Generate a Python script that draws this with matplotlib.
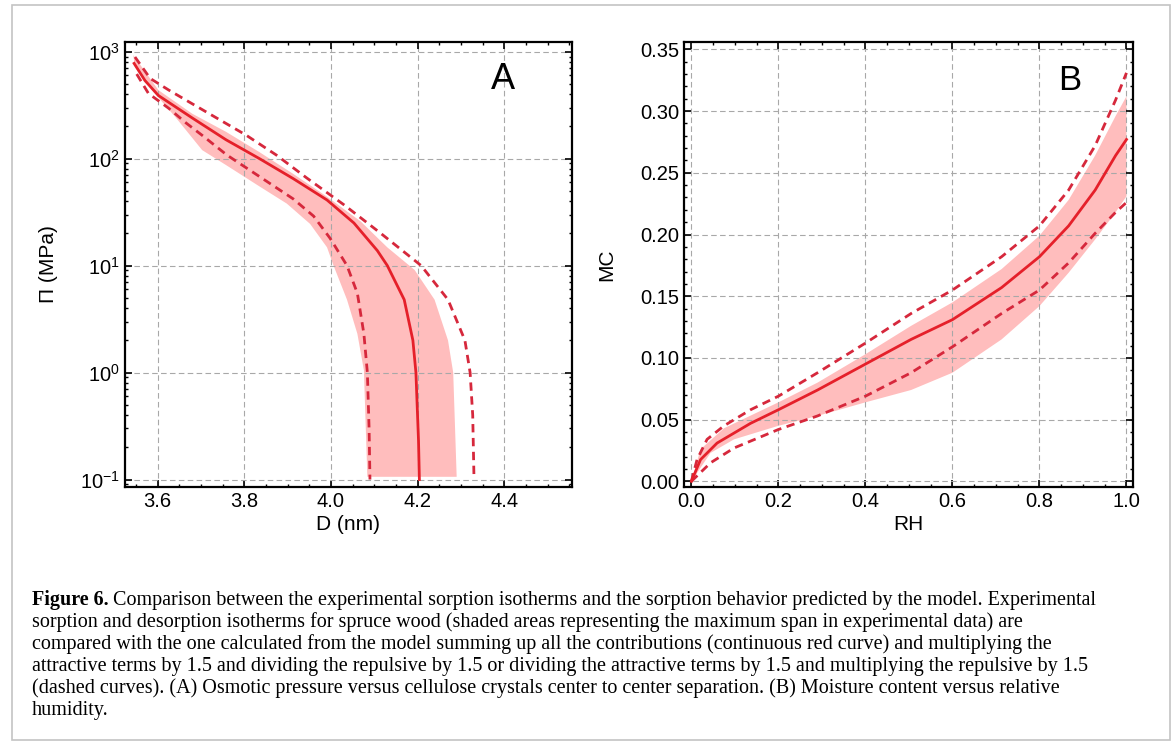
import matplotlib
matplotlib.use('Agg')
import matplotlib.pyplot as plt
from matplotlib.patches import Rectangle
from matplotlib.ticker import MultipleLocator, LogLocator, NullFormatter, FormatStrFormatter
import numpy as np

plt.rcParams['font.family'] = ['Liberation Sans', 'DejaVu Sans']
plt.rcParams['mathtext.fontset'] = 'custom'
plt.rcParams['mathtext.rm'] = 'Liberation Sans'
plt.rcParams['mathtext.it'] = 'Liberation Sans:italic'

# ---- panel A: osmotic pressure (MPa) vs crystal separation D (nm) ----
a_solid_D = [3.546, 3.571, 3.602, 3.68, 3.758, 3.835, 3.913, 3.991, 4.053, 4.107, 4.13, 4.169, 4.189, 4.196, 4.202, 4.204]
a_solid_P = [776, 537, 389, 240, 150, 100, 65, 41, 25, 13.8, 10, 4.8, 2.0, 1.0, 0.23, 0.1]

a_upper_D = [3.548, 3.583, 3.626, 3.711, 3.804, 3.874, 3.944, 4.03, 4.115, 4.208, 4.27, 4.309, 4.321, 4.327, 4.33]
a_upper_P = [891, 562, 437, 275, 166, 108, 66, 37, 20, 10, 4.8, 2.0, 1.0, 0.4, 0.1]

a_lower_D = [3.552, 3.579, 3.626, 3.666, 3.703, 3.76, 3.85, 3.913, 3.96, 3.998, 4.037, 4.061, 4.076, 4.084, 4.088, 4.09]
a_lower_P = [617, 407, 295, 215, 165, 108, 62, 42, 29, 18, 10, 5.5, 2.3, 1.0, 0.3, 0.1]

a_band_left_D = [3.544, 3.548, 3.587, 3.641, 3.703, 3.758, 3.835, 3.898, 3.952, 3.991, 4.006, 4.037, 4.061, 4.076, 4.084]
a_band_left_P = [930, 724, 437, 245, 120, 87, 55, 38, 24.5, 14.8, 10, 4.8, 2.3, 1.05, 0.106]
a_band_right_D = [3.544, 3.602, 3.68, 3.758, 3.835, 3.913, 3.991, 4.068, 4.13, 4.193, 4.239, 4.27, 4.282, 4.29]
a_band_right_P = [930, 437, 263, 178, 115, 72, 44, 26, 14.8, 9.1, 4.8, 2.0, 1.0, 0.106]

# ---- panel B: moisture content vs relative humidity ----
b_solid_rh = [0.0, 0.021, 0.059, 0.136, 0.2, 0.29, 0.4, 0.505, 0.6, 0.713, 0.8, 0.867, 0.928, 0.975, 1.0]
b_solid_mc = [0.0, 0.0176, 0.031, 0.047, 0.058, 0.074, 0.095, 0.115, 0.131, 0.157, 0.182, 0.207, 0.236, 0.264, 0.277]

b_upper_rh = [0.0, 0.013, 0.036, 0.075, 0.136, 0.2, 0.29, 0.4, 0.505, 0.6, 0.713, 0.8, 0.867, 0.928, 0.975, 1.0]
b_upper_mc = [0.0, 0.0176, 0.034, 0.045, 0.058, 0.069, 0.088, 0.112, 0.136, 0.155, 0.182, 0.207, 0.236, 0.272, 0.309, 0.331]

b_lower_rh = [0.0, 0.044, 0.098, 0.2, 0.29, 0.4, 0.505, 0.6, 0.713, 0.8, 0.867, 0.928, 0.975, 1.0]
b_lower_mc = [0.0, 0.015, 0.027, 0.042, 0.053, 0.069, 0.088, 0.109, 0.136, 0.155, 0.177, 0.201, 0.218, 0.226]

b_band_hi_rh = [0.0, 0.021, 0.075, 0.2, 0.29, 0.4, 0.505, 0.6, 0.713, 0.8, 0.867, 0.928, 0.975, 1.0]
b_band_hi_mc = [0.0, 0.026, 0.043, 0.064, 0.080, 0.103, 0.126, 0.145, 0.172, 0.199, 0.228, 0.264, 0.296, 0.312]
b_band_lo_rh = [0.0, 0.044, 0.098, 0.2, 0.29, 0.4, 0.505, 0.6, 0.713, 0.8, 0.867, 0.928, 0.975, 1.0]
b_band_lo_mc = [0.0, 0.023, 0.034, 0.045, 0.053, 0.064, 0.074, 0.088, 0.115, 0.142, 0.169, 0.196, 0.218, 0.231]

caption_lines = [
    "Comparison between the experimental sorption isotherms and the sorption behavior predicted by the model. Experimental",
    "sorption and desorption isotherms for spruce wood (shaded areas representing the maximum span in experimental data) are",
    "compared with the one calculated from the model summing up all the contributions (continuous red curve) and multiplying the",
    "attractive terms by 1.5 and dividing the repulsive by 1.5 or dividing the attractive terms by 1.5 and multiplying the repulsive by 1.5",
    "(dashed curves). (A) Osmotic pressure versus cellulose crystals center to center separation. (B) Moisture content versus relative",
    "humidity.",
]

RED = '#e5202a'
DRED = '#d6283c'
SHADE = '#ffbdbd'
DASH = (0, (3.0, 2.0))


def style_axes(ax):
    for s in ax.spines.values():
        s.set_linewidth(1.6)
    ax.tick_params(which='both', direction='in', top=True, right=True, labelsize=14.5)
    ax.tick_params(which='major', length=5, width=1.2)
    ax.tick_params(which='minor', length=2.5, width=1.0)
    ax.grid(True, which='major', color='#a8a8a8', linestyle=(0, (5, 3)), linewidth=0.8)


fig = plt.figure(figsize=(11.76, 7.45), dpi=100)
fig.patches.append(Rectangle((12 / 1176, 5 / 745), 1158 / 1176, 735 / 745, transform=fig.transFigure,
                             fill=False, edgecolor='#c4c4c4', linewidth=1.2))

# panel A
axA = fig.add_axes([125 / 1176, 1 - 487 / 745, 447 / 1176, 445 / 745])
axA.fill(np.concatenate([a_band_left_D, a_band_right_D[::-1]]),
         np.concatenate([a_band_left_P, a_band_right_P[::-1]]),
         color=SHADE, lw=0)
axA.plot(a_upper_D, a_upper_P, color=DRED, lw=2.0, linestyle=DASH)
axA.plot(a_lower_D, a_lower_P, color=DRED, lw=2.0, linestyle=DASH)
axA.plot(a_solid_D, a_solid_P, color=RED, lw=2.0)
axA.set_yscale('log')
axA.set_xlim(3.525, 4.556)
axA.set_ylim(10 ** -1.07, 10 ** 3.09)
axA.set_xticks([3.6, 3.8, 4.0, 4.2, 4.4])
axA.xaxis.set_minor_locator(MultipleLocator(0.05))
axA.yaxis.set_major_locator(LogLocator(base=10, numticks=10))
axA.yaxis.set_minor_locator(LogLocator(base=10, subs=np.arange(2, 10), numticks=20))
axA.yaxis.set_minor_formatter(NullFormatter())
style_axes(axA)
axA.set_xlabel('D (nm)', fontsize=15, labelpad=3)
axA.set_ylabel('Π (MPa)', fontsize=15, labelpad=16)
axA.text(0.846, 0.8955, 'A', transform=axA.transAxes, fontsize=26, ha='center', va='baseline')

# panel B
axB = fig.add_axes([684 / 1176, 1 - 487 / 745, 449 / 1176, 445 / 745])
axB.fill(np.concatenate([b_band_lo_rh, b_band_hi_rh[::-1]]),
         np.concatenate([b_band_lo_mc, b_band_hi_mc[::-1]]),
         color=SHADE, lw=0)
axB.plot(b_upper_rh, b_upper_mc, color=DRED, lw=2.0, linestyle=DASH)
axB.plot(b_lower_rh, b_lower_mc, color=DRED, lw=2.0, linestyle=DASH)
axB.plot(b_solid_rh, b_solid_mc, color=RED, lw=2.0)
axB.set_xlim(-0.017, 1.015)
axB.set_ylim(-0.0046, 0.356)
axB.xaxis.set_major_locator(MultipleLocator(0.2))
axB.xaxis.set_minor_locator(MultipleLocator(0.05))
axB.yaxis.set_major_locator(MultipleLocator(0.05))
axB.yaxis.set_minor_locator(MultipleLocator(0.01))
axB.xaxis.set_major_formatter(FormatStrFormatter('%.1f'))
axB.yaxis.set_major_formatter(FormatStrFormatter('%.2f'))
style_axes(axB)
axB.set_xlabel('RH', fontsize=15, labelpad=3)
axB.set_ylabel('MC', fontsize=15, labelpad=17)
axB.text(0.859, 0.892, 'B', transform=axB.transAxes, fontsize=25, ha='center', va='baseline')

# caption below the panels
cap_font = ['Liberation Serif', 'DejaVu Serif']
x0 = 32 / 1176
y0 = 1 - 600 / 745
dy = 22 / 745
renderer = fig.canvas.get_renderer()
t = fig.text(x0, y0, 'Figure 6.', fontsize=14.5, family=cap_font, weight='bold', va='center')
w = t.get_window_extent(renderer).width / 1176
for i, line in enumerate(caption_lines):
    xs = x0 + w + 4 / 1176 if i == 0 else x0
    fig.text(xs, y0 - i * dy, line, fontsize=14.5, family=cap_font, va='center')

fig.savefig('out.png', dpi=100)
